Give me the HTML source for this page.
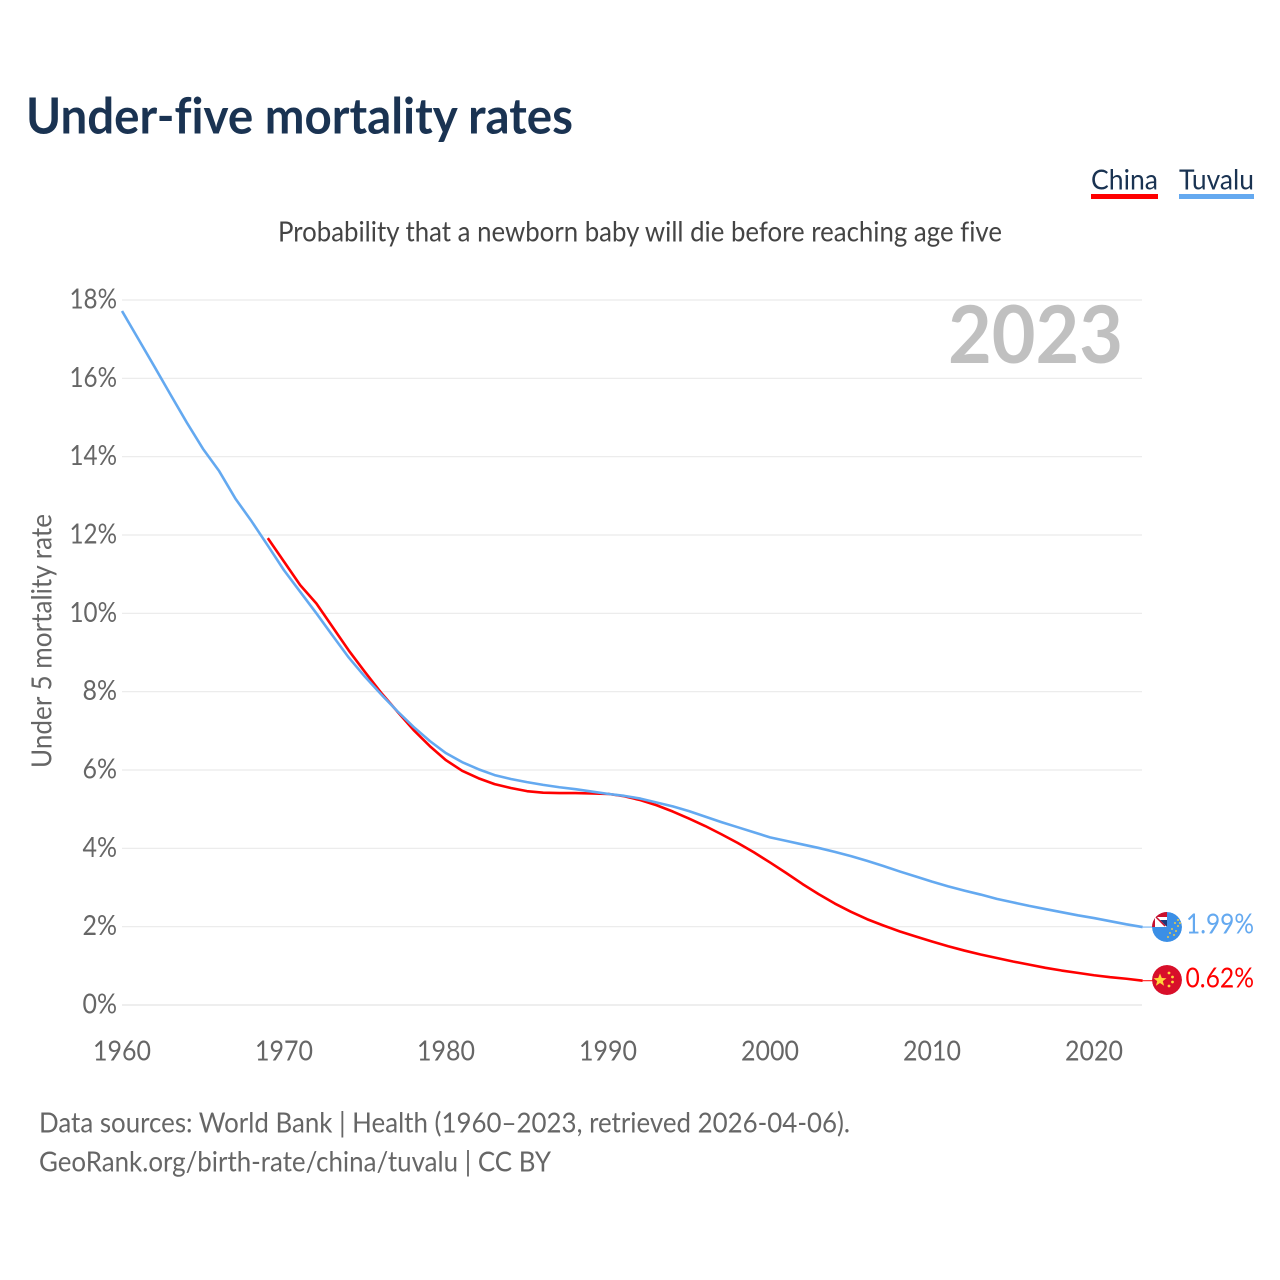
<!DOCTYPE html>
<html lang="en">
<head>
<meta charset="utf-8">
<title>Under-five mortality rates</title>
<style>
html,body{margin:0;padding:0;background:#fff;}
svg{display:block;}
text{font-family:"Lato","Carlito","Liberation Sans",sans-serif;font-variant-ligatures:none;}
</style>
</head>
<body>
<svg id="chart" xmlns="http://www.w3.org/2000/svg" width="1280" height="1280" viewBox="0 0 1280 1280">
  <defs>
    <clipPath id="clip-tuvalu"><circle cx="1167" cy="927" r="15"/></clipPath>
    <clipPath id="clip-china"><circle cx="1167" cy="980" r="15"/></clipPath>
  </defs>
  <rect width="1280" height="1280" fill="#fff"/>
  <text x="26" y="133.5" font-size="49.5" font-weight="700" fill="#1a3352" textLength="547" lengthAdjust="spacingAndGlyphs">Under-five mortality rates</text>

  <g>
    <g>
      <text x="1091" y="189.5" font-size="28" fill="#1a3352" textLength="67" lengthAdjust="spacingAndGlyphs">China</text>
      <rect x="1091" y="194" width="67" height="5" fill="#ff0000"/>
    </g>
    <g>
      <text x="1179" y="189.5" font-size="28" fill="#1a3352" textLength="75" lengthAdjust="spacingAndGlyphs">Tuvalu</text>
      <rect x="1179" y="194" width="75" height="5" fill="#64a9f0"/>
    </g>
  </g>

  <text x="278" y="241.5" font-size="28" fill="#444" textLength="724" lengthAdjust="spacingAndGlyphs">Probability that a newborn baby will die before reaching age five</text>
  <text transform="translate(51.5,768) rotate(-90)" font-size="28" fill="#666" textLength="254" lengthAdjust="spacingAndGlyphs">Under 5 mortality rate</text>

  <g id="grid"></g>
  <g id="yticks"></g>
  <g id="xticks"></g>

  <text x="948" y="363" font-size="80" font-weight="700" fill="#c0c0c0" textLength="175" lengthAdjust="spacingAndGlyphs">2023</text>

  <g id="lines"></g>

  <g clip-path="url(#clip-tuvalu)">
    <circle cx="1167" cy="927" r="15" fill="#3b8fe6"/>
    <rect x="1152" y="912" width="15" height="15" fill="#c8102e"/>
    <rect x="1155" y="917" width="12" height="10" fill="#fff"/>
    <polygon points="1160,920 1167,920 1167,927" fill="#1f3a7a"/>
    <path d="M1156 917 L1165 926" stroke="#c8102e" stroke-width="1.5"/>
    <g fill="#e8c94a">
      <circle cx="1178" cy="920" r="1"/><circle cx="1178" cy="926" r="1"/>
      <circle cx="1175" cy="923" r="1"/><circle cx="1172" cy="929" r="1"/>
      <circle cx="1176" cy="931" r="1"/><circle cx="1170" cy="933" r="1"/>
      <circle cx="1174" cy="935" r="1"/><circle cx="1168" cy="937" r="1"/>
      <circle cx="1180" cy="923" r="1"/>
    </g>
  </g>
  <g clip-path="url(#clip-china)">
    <circle cx="1167" cy="980" r="15" fill="#d80f2a"/>
    <polygon points="1160,973.5 1161.8,978 1166.5,978.2 1162.8,981.1 1164.1,985.7 1160,983 1155.9,985.7 1157.2,981.1 1153.5,978.2 1158.2,978" fill="#ffd43b"/>
    <g fill="#ffd43b">
      <circle cx="1169" cy="973" r="1.4"/><circle cx="1172.5" cy="977" r="1.4"/>
      <circle cx="1172.5" cy="982" r="1.4"/><circle cx="1169" cy="986" r="1.4"/>
    </g>
  </g>

  <text x="1186" y="933.5" font-size="28" fill="#64a9f0" textLength="68" lengthAdjust="spacingAndGlyphs">1.99%</text>
  <text x="1185.5" y="987.5" font-size="28" fill="#ff0000" textLength="68.5" lengthAdjust="spacingAndGlyphs">0.62%</text>

  <g>
    <text x="39" y="1132.5" font-size="28" fill="#666" textLength="811" lengthAdjust="spacingAndGlyphs">Data sources: World Bank | Health (1960–2023, retrieved 2026-04-06).</text>
    <text x="39" y="1171.5" font-size="28" fill="#666" textLength="512" lengthAdjust="spacingAndGlyphs">GeoRank.org/birth-rate/china/tuvalu | CC BY</text>
  </g>
</svg>
<script>
const yTickValues = [0, 2, 4, 6, 8, 10, 12, 14, 16, 18];
const xTickValues = [1960, 1970, 1980, 1990, 2000, 2010, 2020];

const tuvaluStartYear = 1960;
const tuvaluValues = [
  17.72, 17.01, 16.30, 15.58, 14.87, 14.2, 13.63, 12.93, 12.35, 11.73,
  11.1, 10.55, 10.0, 9.43, 8.87, 8.38, 7.93, 7.5, 7.1, 6.74,
  6.43, 6.2, 6.02, 5.87, 5.77, 5.69, 5.62, 5.56, 5.51, 5.45,
  5.39, 5.34, 5.27, 5.17, 5.07, 4.95, 4.81, 4.67, 4.54, 4.41,
  4.28, 4.19, 4.1, 4.01, 3.91, 3.8, 3.68, 3.55, 3.41, 3.28,
  3.15, 3.03, 2.92, 2.82, 2.71, 2.62, 2.53, 2.45, 2.37, 2.29,
  2.22, 2.14, 2.06, 1.99
];

const chinaStartYear = 1969;
const chinaValues = [
  11.92, 11.32, 10.72, 10.25, 9.65, 9.05, 8.5, 7.97, 7.49, 7.02,
  6.61, 6.25, 5.98, 5.79, 5.64, 5.54, 5.46, 5.42, 5.41, 5.41,
  5.4, 5.39, 5.33, 5.23, 5.1, 4.94, 4.76, 4.57, 4.36, 4.14,
  3.9, 3.64, 3.37, 3.09, 2.83, 2.59, 2.38, 2.19, 2.03, 1.88,
  1.75, 1.62, 1.5, 1.39, 1.29, 1.2, 1.11, 1.03, 0.95, 0.88,
  0.82, 0.76, 0.71, 0.67, 0.62
];

const NS = 'http://www.w3.org/2000/svg';
function xScale(year) { return 122 + (year - 1960) * 16.2; }
function yScale(pct) { return 1005 - pct * (705 / 18); }

const gridGroup = document.getElementById('grid');
const yTickGroup = document.getElementById('yticks');
const xTickGroup = document.getElementById('xticks');
const lineGroup = document.getElementById('lines');

yTickValues.forEach(function (v) {
  const line = document.createElementNS(NS, 'line');
  
  
  line.setAttribute('x1', 122);
  line.setAttribute('x2', 1142);
  line.setAttribute('y1', yScale(v));
  line.setAttribute('y2', yScale(v));
  line.setAttribute('stroke', '#e9e9e9');
  line.setAttribute('stroke-width', v === 0 ? 1.6 : 1.2);
  gridGroup.appendChild(line);

  const t = document.createElementNS(NS, 'text');
  
  
  const w = 13 * String(v).length + 21.5;
  t.setAttribute('x', 117 - w);
  t.setAttribute('y', yScale(v) + 8.5);
  t.setAttribute('font-size', '28');
  t.setAttribute('fill', '#666');
  t.setAttribute('textLength', w);
  t.setAttribute('lengthAdjust', 'spacingAndGlyphs');
  t.textContent = String(v) + '%';
  yTickGroup.appendChild(t);
});

xTickValues.forEach(function (v) {
  const t = document.createElementNS(NS, 'text');
  
  
  t.setAttribute('x', xScale(v) - 29);
  t.setAttribute('y', 1060.5);
  t.setAttribute('font-size', '28');
  t.setAttribute('fill', '#666');
  t.setAttribute('textLength', 58);
  t.setAttribute('lengthAdjust', 'spacingAndGlyphs');
  t.textContent = String(v);
  xTickGroup.appendChild(t);
});

function buildPath(startYear, values) {
  return values.map(function (v, i) {
    return (i === 0 ? 'M' : 'L') + xScale(startYear + i).toFixed(2) + ' ' + yScale(v).toFixed(2);
  }).join(' ');
}

function lastPoint(startYear, values) {
  const i = values.length - 1;
  return [xScale(startYear + i), yScale(values[i])];
}

const chinaLine = document.createElementNS(NS, 'path');


chinaLine.setAttribute('d', buildPath(chinaStartYear, chinaValues));
chinaLine.setAttribute('fill', 'none');
chinaLine.setAttribute('stroke', '#ff0000');
chinaLine.setAttribute('stroke-width', '2.6');
chinaLine.setAttribute('stroke-linejoin', 'round');
lineGroup.appendChild(chinaLine);

const tuvaluLine = document.createElementNS(NS, 'path');


tuvaluLine.setAttribute('d', buildPath(tuvaluStartYear, tuvaluValues));
tuvaluLine.setAttribute('fill', 'none');
tuvaluLine.setAttribute('stroke', '#64a9f0');
tuvaluLine.setAttribute('stroke-width', '2.6');
tuvaluLine.setAttribute('stroke-linejoin', 'round');
lineGroup.appendChild(tuvaluLine);

const chinaEnd = lastPoint(chinaStartYear, chinaValues);
const chinaLeader = document.createElementNS(NS, 'line');


chinaLeader.setAttribute('x1', chinaEnd[0]);
chinaLeader.setAttribute('y1', chinaEnd[1]);
chinaLeader.setAttribute('x2', 1153);
chinaLeader.setAttribute('y2', chinaEnd[1]);
chinaLeader.setAttribute('stroke', '#ff0000');
chinaLeader.setAttribute('stroke-width', '1');
lineGroup.appendChild(chinaLeader);

const tuvaluEnd = lastPoint(tuvaluStartYear, tuvaluValues);
const tuvaluLeader = document.createElementNS(NS, 'line');


tuvaluLeader.setAttribute('x1', tuvaluEnd[0]);
tuvaluLeader.setAttribute('y1', tuvaluEnd[1]);
tuvaluLeader.setAttribute('x2', 1153);
tuvaluLeader.setAttribute('y2', tuvaluEnd[1]);
tuvaluLeader.setAttribute('stroke', '#64a9f0');
tuvaluLeader.setAttribute('stroke-width', '1');
lineGroup.appendChild(tuvaluLeader);
</script>
</body>
</html>
